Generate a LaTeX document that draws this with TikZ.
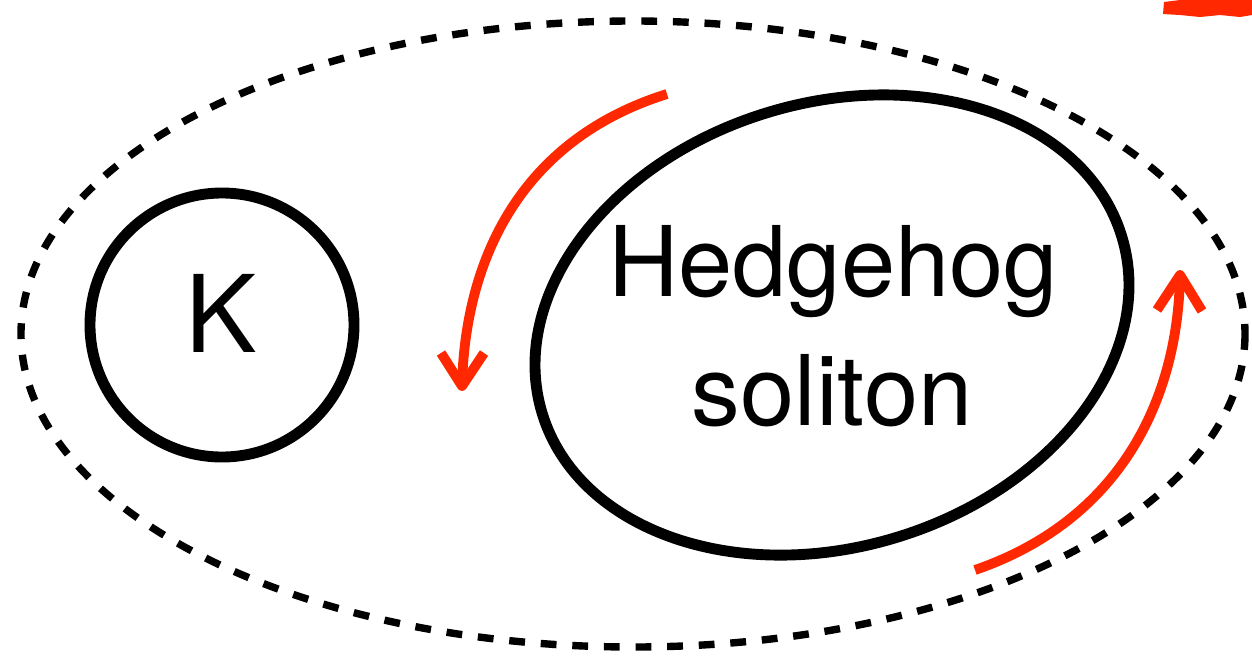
\documentclass[tikz,border=0pt]{standalone}
\usepackage{fontspec}
\setmainfont{TeX Gyre Heros}
\definecolor{arrowred}{RGB}{255,40,0}
\tikzset{
  outerring/.style={line width=4.2pt, dash pattern=on 9pt off 9pt},
  bodyline/.style={line width=6.2pt},
  flowarrow/.style={line width=5.6pt, color=arrowred},
  headline/.style={line width=5.6pt, color=arrowred, line join=round, line cap=butt},
  bigtext/.style={font=\fontsize{55.5}{60}\selectfont, inner sep=0pt},
  ktext/.style={font=\fontsize{61}{66}\selectfont, inner sep=0pt},
}
\begin{document}
\begin{tikzpicture}[x=0.02cm,y=-0.02cm]
\useasboundingbox (0,0) rectangle (1252,657);
% outer dashed ellipse
\draw[outerring] (633,334) ellipse [x radius=612, y radius=313];
% K circle
\draw[bodyline] (222,325) circle [radius=132];
\node[ktext, anchor=base] (K) at (221,352) {K};
% Hedgehog ellipse
\draw[bodyline, rotate around={17:(832,325)}] (832,325) ellipse [x radius=303, y radius=222];
\node[bigtext, anchor=base] (h1) at (833,296) {Hedgehog};
\node[bigtext, anchor=base] (h2) at (832,425) {soliton};
% red arrows
\coordinate (a1s) at (667,94);
\coordinate (a1t) at (462,386);
\coordinate (a1l) at (441,353);
\coordinate (a1r) at (484,353);
\draw[flowarrow] (a1s) .. controls (520,140) and (465,260) .. (a1t);
\draw[headline] (a1l) -- (a1t) -- (a1r);
\coordinate (a2s) at (975,570);
\coordinate (a2t) at (1180,275);
\coordinate (a2l) at (1157,310);
\coordinate (a2r) at (1202,311);
\draw[flowarrow] (a2s) .. controls (1120,520) and (1178,400) .. (a2t);
\draw[headline] (a2l) -- (a2t) -- (a2r);
% red scribble top right
\fill[arrowred] (1164,2) -- (1180,0) -- (1252,0) -- (1252,15) -- (1240,17) -- (1220,15) -- (1200,17) -- (1180,15) -- (1163,14) -- cycle;
\end{tikzpicture}
\end{document}
